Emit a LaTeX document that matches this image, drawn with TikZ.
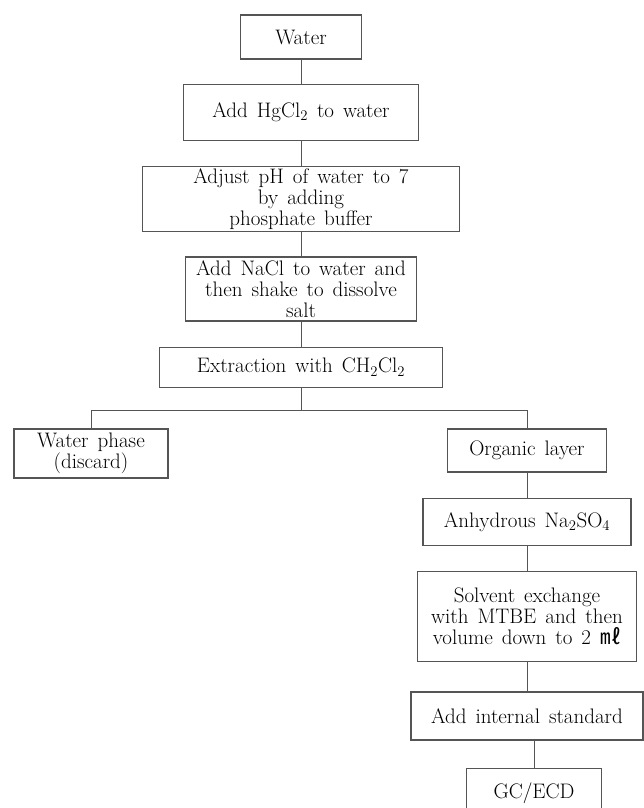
\documentclass[tikz,border=0pt]{standalone}
\usepackage{fontspec}
\newfontfamily\cjk{Noto Sans CJK KR}
\usetikzlibrary{positioning}
\definecolor{lcolor}{HTML}{555555}
\newcommand\boxfont{\fontsize{21}{21}\selectfont\spaceskip=9pt plus 2pt minus 1pt\relax}

\begin{document}
\begin{tikzpicture}[x=1pt, y=1pt,
    box/.style={rectangle, draw=lcolor, line width=1.3pt, align=center, inner sep=2pt, font=\boxfont},
    link/.style={draw=lcolor, line width=1pt},
  ]
    \useasboundingbox (0,0) rectangle (644,-808);

    % main column
    \node[box, minimum width=121pt, minimum height=44pt] (water) at (301,-37) {Water};
    \node[box, below=24pt of water, minimum width=235pt, minimum height=56pt] (hgcl) {Add HgCl\textsubscript{2} to water};
    \node[box, below=25pt of hgcl, minimum width=317pt, minimum height=65pt] (ph) {Adjust pH of water to 7\\by adding\\phosphate buffer};
    \node[box, below=24pt of ph, minimum width=231pt, minimum height=64pt] (nacl) {Add NaCl to water and\\then shake to dissolve\\salt};
    \node[box, below=25pt of nacl, minimum width=283pt, minimum height=40pt] (extr) {Extraction with CH\textsubscript{2}Cl\textsubscript{2}};
    \coordinate[below=23pt of extr] (split);

    % two phases
    \node[box, minimum width=154pt, minimum height=49pt] (wphase) at (91,-453.5) {Water phase\\(discard)};
    \node[box, minimum width=159pt, minimum height=43pt] (org) at (527,-450.5) {Organic layer};
    \node[box, below=25pt of org, minimum width=208pt, minimum height=47pt] (dry) {Anhydrous Na\textsubscript{2}SO\textsubscript{4}};
    \node[box, below=25pt of dry, minimum width=219pt, minimum height=90pt] (solv) {Solvent exchange\\with MTBE and then\\volume down to 2 {\cjk ㎖}};
    \node[box, below=29pt of solv, minimum width=232pt, minimum height=48pt] (istd) {Add internal standard};
    \node[box, below=27pt of istd, xshift=7pt, minimum width=135pt, minimum height=50pt] (gc) {GC/ECD};

    \draw[link] (water) -- (hgcl);
    \draw[link] (hgcl) -- (ph);
    \draw[link] (ph) -- (nacl);
    \draw[link] (nacl) -- (extr);
    \draw[link] (extr) -- (split);
    \draw[link] (wphase.north) |- (split) -| (org.north);
    \draw[link] (org) -- (dry);
    \draw[link] (dry) -- (solv);
    \draw[link] (solv) -- (istd);
    \draw[link] (gc.north |- istd.south) -- (gc.north);
\end{tikzpicture}
\end{document}
